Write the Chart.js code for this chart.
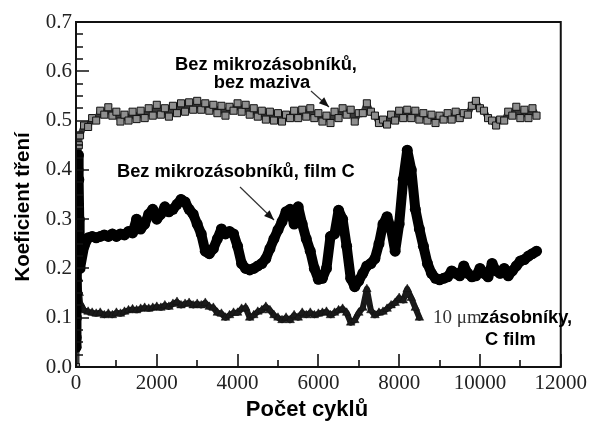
<!DOCTYPE html>
<html>
<head>
<meta charset="utf-8">
<script src="https://cdn.jsdelivr.net/npm/chart.js@4.4.1/dist/chart.umd.min.js"></script>
<style>
  html, body { margin: 0; padding: 0; background: #fff; }
  #wrap { width: 591px; height: 421px; }
</style>
</head>
<body>
<div id="wrap"><canvas id="c" width="591" height="421"></canvas></div>
<script>
// ---- data ----
const xTickValues = [0, 2000, 4000, 6000, 8000, 10000, 12000];
const xTickLabels = ['0', '2000', '4000', '6000', '8000', '10000', '12000'];
const xMinorTicks = [1000, 3000, 5000, 7000, 9000, 11000];
const yTickLabels = ['0.0', '0.1', '0.2', '0.3', '0.4', '0.5', '0.6', '0.7'];
const yMinorTicks = [0.025, 0.05, 0.075, 0.125, 0.15, 0.175, 0.225, 0.25, 0.275, 0.325, 0.35, 0.375,
                     0.425, 0.45, 0.475, 0.525, 0.55, 0.575, 0.625, 0.65, 0.675];

const xTitle = 'Počet cyklů';
const yTitle = 'Koeficient tření';

// start-up points (first ~100 cycles)
const rampCyclesDry = [0, 5, 10, 15, 20, 30, 40, 50, 70];
const rampDry       = [0.0, 0.08, 0.135, 0.18, 0.26, 0.33, 0.38, 0.42, 0.45];
const rampCyclesFilm = [0, 5, 10, 20, 30, 40, 50, 60, 70, 80, 90];
const rampFilm       = [0.04, 0.06, 0.10, 0.15, 0.25, 0.33, 0.40, 0.43, 0.38, 0.30, 0.22];
const rampCyclesRes = [0, 10, 20, 30, 40, 50, 60, 80];
const rampRes       = [0.16, 0.20, 0.30, 0.36, 0.33, 0.25, 0.18, 0.15];

// sampled cycles
const cycles = [100,200,300,400,500,600,700,800,900,1000,
  1100,1200,1300,1400,1500,1600,1700,1800,1900,2000,
  2100,2200,2300,2400,2500,2600,2700,2800,2900,3000,
  3100,3200,3300,3400,3500,3600,3700,3800,3900,4000,
  4100,4200,4300,4400,4500,4600,4700,4800,4900,5000,
  5100,5200,5300,5400,5500,5600,5700,5800,5900,6000,
  6100,6200,6300,6400,6500,6600,6700,6800,6900,7000,
  7100,7200,7300,7400,7500,7600,7700,7800,7900,8000,
  8100,8200,8300,8400,8500,8600,8700,8800,8900,9000,
  9100,9200,9300,9400,9500,9600,9700,9800,9900,10000,
  10100,10200,10300,10400,10500,10600,10700,10800,10900,11000,
  11100,11200,11300,11400];

// Bez mikrozásobníků, bez maziva (squares)
const frictionDry = [0.47,0.49,0.487,0.505,0.50,0.52,0.512,0.527,0.51,0.518,
  0.498,0.512,0.50,0.518,0.503,0.52,0.505,0.525,0.51,0.532,
  0.512,0.525,0.508,0.53,0.515,0.535,0.518,0.537,0.522,0.54,
  0.522,0.535,0.52,0.532,0.515,0.53,0.51,0.528,0.52,0.535,
  0.518,0.532,0.512,0.525,0.508,0.52,0.502,0.518,0.50,0.515,
  0.498,0.512,0.505,0.52,0.505,0.522,0.508,0.525,0.505,0.515,
  0.498,0.51,0.495,0.518,0.505,0.525,0.512,0.522,0.498,0.515,
  0.515,0.535,0.518,0.51,0.495,0.502,0.492,0.512,0.50,0.52,
  0.505,0.522,0.505,0.52,0.502,0.515,0.50,0.512,0.495,0.51,
  0.502,0.515,0.502,0.518,0.505,0.515,0.512,0.53,0.54,0.525,
  0.52,0.505,0.50,0.49,0.502,0.50,0.518,0.51,0.528,0.505,
  0.522,0.505,0.525,0.51];

// Bez mikrozásobníků, film C (circles)
const frictionFilm = [0.20,0.245,0.262,0.265,0.262,0.265,0.268,0.265,0.27,0.265,
  0.27,0.268,0.275,0.272,0.30,0.28,0.29,0.31,0.32,0.30,
  0.31,0.325,0.315,0.32,0.33,0.34,0.335,0.32,0.31,0.29,
  0.27,0.235,0.23,0.24,0.26,0.28,0.27,0.275,0.27,0.245,
  0.21,0.20,0.197,0.20,0.205,0.21,0.22,0.24,0.26,0.278,
  0.295,0.315,0.32,0.29,0.325,0.29,0.26,0.235,0.20,0.178,
  0.18,0.20,0.265,0.27,0.318,0.30,0.245,0.18,0.163,0.175,
  0.19,0.205,0.21,0.22,0.25,0.29,0.305,0.28,0.235,0.29,
  0.38,0.44,0.40,0.32,0.28,0.245,0.21,0.19,0.18,0.177,
  0.18,0.183,0.195,0.19,0.185,0.205,0.19,0.183,0.185,0.20,
  0.19,0.183,0.21,0.195,0.19,0.20,0.185,0.195,0.205,0.215,
  0.218,0.225,0.23,0.235];

// 10 µm zásobníky, C film (triangles) – up to 8500 cycles
const frictionRes = [0.13,0.115,0.112,0.11,0.108,0.11,0.105,0.108,0.105,0.11,
  0.108,0.112,0.115,0.117,0.115,0.118,0.12,0.118,0.12,0.122,
  0.12,0.125,0.122,0.128,0.132,0.125,0.128,0.13,0.125,0.128,
  0.125,0.13,0.122,0.12,0.11,0.108,0.10,0.105,0.11,0.11,
  0.118,0.12,0.10,0.105,0.112,0.115,0.122,0.115,0.105,0.10,
  0.095,0.10,0.095,0.105,0.10,0.11,0.105,0.11,0.105,0.108,
  0.11,0.112,0.105,0.11,0.115,0.118,0.11,0.09,0.095,0.11,
  0.12,0.158,0.115,0.105,0.11,0.112,0.118,0.125,0.13,0.14,
  0.135,0.158,0.14,0.12,0.10];

function pts(xs, ys) { return ys.map((y, i) => ({ x: xs[i], y: y })); }

const dsDry  = pts(rampCyclesDry, rampDry).concat(pts(cycles, frictionDry));
const dsFilm = pts(rampCyclesFilm, rampFilm).concat(pts(cycles, frictionFilm));
const dsRes  = pts(rampCyclesRes, rampRes).concat(pts(cycles.slice(0, frictionRes.length), frictionRes));

// ---- layout constants ----
const PLOT = { left: 76, top: 22, right: 566, bottom: 367 };
const SERIF = '"Liberation Serif", "Times New Roman", serif';

const decorPlugin = {
  id: 'decor',
  afterDraw(chart) {
    const ctx = chart.ctx;
    const xs = chart.scales.x, ys = chart.scales.y;
    const ca = chart.chartArea;
    ctx.save();
    // frame
    ctx.strokeStyle = '#111';
    ctx.lineWidth = 2;
    ctx.strokeRect(ca.left, ca.top, ca.right - ca.left, ca.bottom - ca.top);
    // inward ticks
    ctx.lineWidth = 1.6;
    ctx.beginPath();
    xTickValues.forEach(v => { const p = Math.round(xs.getPixelForValue(v)); ctx.moveTo(p, ca.bottom); ctx.lineTo(p, ca.bottom - 13); });
    xMinorTicks.forEach(v => { const p = Math.round(xs.getPixelForValue(v)); ctx.moveTo(p, ca.bottom); ctx.lineTo(p, ca.bottom - 7); });
    yTickLabels.forEach(s => { const p = Math.round(ys.getPixelForValue(parseFloat(s))); ctx.moveTo(ca.left, p); ctx.lineTo(ca.left + 13, p); });
    yMinorTicks.forEach(v => { const p = Math.round(ys.getPixelForValue(v)); ctx.moveTo(ca.left, p); ctx.lineTo(ca.left + 7, p); });
    ctx.stroke();

    // axis titles
    ctx.fillStyle = '#000';
    ctx.font = 'bold 22px "Liberation Sans", Arial, sans-serif';
    ctx.textAlign = 'center';
    ctx.textBaseline = 'alphabetic';
    ctx.fillText(xTitle, 307, 416);
    ctx.save();
    ctx.translate(29, 207);
    ctx.rotate(-Math.PI / 2);
    ctx.font = 'bold 20.5px "Liberation Sans", Arial, sans-serif';
    ctx.fillText(yTitle, 0, 0);
    ctx.restore();

    // annotations
    ctx.font = 'bold 18.3px "Liberation Sans", Arial, sans-serif';
    ctx.textAlign = 'center';
    ctx.fillText('Bez mikrozásobníků,', 266, 70);
    ctx.fillText('bez maziva', 262, 88);
    ctx.textAlign = 'left';
    ctx.fillText('Bez mikrozásobníků, film C', 117, 177);
    ctx.fillText('zásobníky,', 480, 323);
    ctx.fillText('C film', 485, 345);
    ctx.font = '19px "Liberation Serif", "Times New Roman", serif';
    ctx.fillStyle = '#333';
    ctx.fillText('10 μm', 433, 323);

    // arrows
    function arrow(x1, y1, x2, y2) {
      ctx.strokeStyle = '#333';
      ctx.fillStyle = '#111';
      ctx.lineWidth = 1.2;
      ctx.beginPath(); ctx.moveTo(x1, y1); ctx.lineTo(x2, y2); ctx.stroke();
      const a = Math.atan2(y2 - y1, x2 - x1), L = 10, W = 4;
      ctx.beginPath();
      ctx.moveTo(x2, y2);
      ctx.lineTo(x2 - L * Math.cos(a) + W * Math.sin(a), y2 - L * Math.sin(a) - W * Math.cos(a));
      ctx.lineTo(x2 - L * Math.cos(a) - W * Math.sin(a), y2 - L * Math.sin(a) + W * Math.cos(a));
      ctx.closePath(); ctx.fill();
    }
    arrow(311, 91, 329, 107);
    arrow(240, 187, 274, 220);
    ctx.restore();
  }
};

new Chart(document.getElementById('c'), {
  type: 'scatter',
  data: {
    datasets: [
      { label: 'Bez mikrozásobníků, film C', data: dsFilm, showLine: true,
        borderColor: '#000', borderWidth: 10, borderJoinStyle: 'round', borderCapStyle: 'round',
        pointStyle: 'circle', pointRadius: 5.5,
        pointBackgroundColor: '#000', pointBorderColor: '#000', pointBorderWidth: 0, order: 1 },
      { label: 'Bez mikrozásobníků, bez maziva', data: dsDry, showLine: true,
        borderColor: '#3a3a3a', borderWidth: 6, borderJoinStyle: 'round', borderCapStyle: 'round',
        pointStyle: 'rect', pointRadius: 5,
        pointBackgroundColor: '#8f8f8f', pointBorderColor: '#111', pointBorderWidth: 1, order: 2 },
      { label: '10 μm zásobníky, C film', data: dsRes, showLine: true,
        borderColor: '#1a1a1a', borderWidth: 6, borderJoinStyle: 'round', borderCapStyle: 'round',
        pointStyle: 'triangle', pointRadius: 5,
        pointBackgroundColor: '#1a1a1a', pointBorderColor: '#111', pointBorderWidth: 0.5, order: 3 }
    ]
  },
  options: {
    responsive: false,
    animation: false,
    devicePixelRatio: 1,
    layout: { padding: { left: 0, top: PLOT.top, right: 591 - PLOT.right, bottom: 0 } },
    plugins: { legend: { display: false }, tooltip: { enabled: false } },
    scales: {
      x: {
        type: 'linear', min: 0, max: 12000,
        afterFit(s) { s.height = 421 - PLOT.bottom; },
        afterBuildTicks(s) { s.ticks = xTickValues.map(v => ({ value: v })); },
        grid: { display: false, drawTicks: false }, border: { display: false },
        ticks: { padding: 4, color: '#222', maxRotation: 0, autoSkip: false,
                 callback: (v) => xTickLabels[xTickValues.indexOf(v)],
                 font: { family: SERIF, size: 21 } }
      },
      y: {
        type: 'linear', min: 0, max: 0.7,
        afterFit(s) { s.width = PLOT.left; },
        grid: { display: false, drawTicks: false }, border: { display: false },
        ticks: { stepSize: 0.1, padding: 4, color: '#222',
                 callback: (v) => yTickLabels[Math.round(v * 10)],
                 font: { family: SERIF, size: 21 } }
      }
    }
  },
  plugins: [decorPlugin]
});
</script>
</body>
</html>
